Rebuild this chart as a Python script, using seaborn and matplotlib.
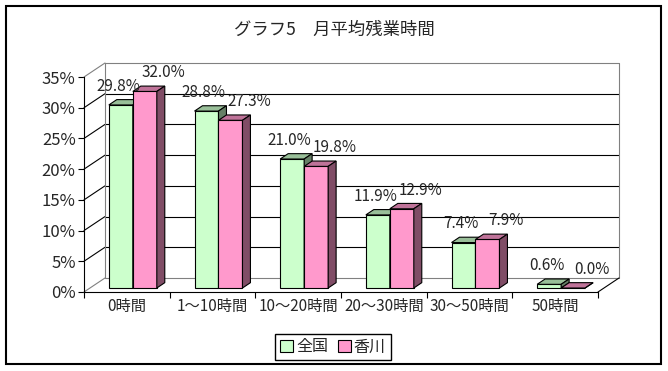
import numpy as np
import pandas as pd
import seaborn as sns
import matplotlib.pyplot as plt
from matplotlib.patches import Polygon, Patch, Rectangle

categories = ["0時間", "1～10時間", "10～20時間", "20～30時間", "30～50時間", "50時間"]
series = ["全国", "香川"]
zenkoku = [29.8, 28.8, 21.0, 11.9, 7.4, 0.6]
kagawa = [32.0, 27.3, 19.8, 12.9, 7.9, 0.0]
yticks = [0, 5, 10, 15, 20, 25, 30, 35]

front = ["#CCFFCC", "#FF99CC"]
top = ["#99BF99", "#BF7399"]
side = ["#668066", "#804D66"]
gray = "#808080"

sns.set_style("white")
plt.rcParams['font.family'] = ['Noto Sans CJK JP', 'DejaVu Sans']

df = pd.DataFrame({
    "区分": categories * 2,
    "系列": [series[0]] * len(categories) + [series[1]] * len(categories),
    "割合": zenkoku + kagawa,
})

fig = plt.figure(figsize=(6.68, 3.71), dpi=100)
ax = fig.add_axes([84 / 668, 79 / 371, 514 / 668, 215 / 371])
sns.barplot(data=df, x="区分", y="割合", hue="系列", order=categories,
            hue_order=series, palette=front, saturation=1, width=0.56,
            edgecolor="black", linewidth=0.8, legend=False, ax=ax)
ax.set_xlim(-0.5, 5.5)
ax.set_ylim(0, 35)
ax.set_xlabel("")
ax.set_ylabel("")

# 3D offsets in data units
wx, wy = 0.245, 2.28   # back wall
fx, fy = 0.07, 0.65    # bar front face
dx, dy = 0.093, 0.87   # bar depth

# walls and gridlines
for v in yticks:
    c = "black" if 0 < v < 35 else gray
    ax.plot([-0.5, -0.5 + wx], [v, v + wy], color=c, lw=0.8, clip_on=False, zorder=1)
    ax.plot([-0.5 + wx, 5.5 + wx], [v + wy, v + wy], color=c, lw=0.8, clip_on=False, zorder=1)
ax.plot([-0.5 + wx, -0.5 + wx], [wy, 35 + wy], color=gray, lw=0.8, clip_on=False, zorder=1)
ax.plot([5.5 + wx, 5.5 + wx], [wy, 35 + wy], color=gray, lw=0.8, clip_on=False, zorder=1)
ax.plot([5.5, 5.5 + wx], [0, wy], color="black", lw=0.8, clip_on=False, zorder=1)

# 3D bars
for j, cont in enumerate(ax.containers):
    for i, bar in enumerate(cont):
        bar.set_x(bar.get_x() + fx)
        bar.set_y(fy)
        x0 = bar.get_x()
        w = bar.get_width()
        h = bar.get_height()
        yt = fy + h
        z = 10 + i * 10 + j * 3
        bar.set_zorder(z)
        bar.set_clip_on(False)
        ax.add_patch(Polygon([(x0, yt), (x0 + w, yt), (x0 + w + dx, yt + dy), (x0 + dx, yt + dy)],
                             closed=True, facecolor=top[j], edgecolor="black", lw=0.8,
                             zorder=z + 1, clip_on=False))
        ax.add_patch(Polygon([(x0 + w, fy), (x0 + w + dx, fy + dy), (x0 + w + dx, yt + dy), (x0 + w, yt)],
                             closed=True, facecolor=side[j], edgecolor="black", lw=0.8,
                             zorder=z + 1, clip_on=False))
        lx = x0 + w / 2 + (0.22 if j == 1 else -0.03)
        ax.text(lx, h + 2.3, f"{h:.1f}%", ha="center", va="bottom", fontsize=11, zorder=100)

ax.set_yticks(yticks)
ax.set_yticklabels([f"{v}%" for v in yticks], fontsize=12)
ax.set_xticks(range(len(categories)))
ax.set_xticklabels(categories, fontsize=11)
ax.set_xticks(np.arange(-0.5, len(categories)), minor=True)
ax.tick_params(axis="y", left=True, length=4, width=0.8, color="black", pad=2)
ax.tick_params(axis="x", which="major", bottom=False, length=0, pad=4)
ax.tick_params(axis="x", which="minor", bottom=True, length=4, width=0.8, color="black")
for s in ["top", "right"]:
    ax.spines[s].set_visible(False)
for s in ["left", "bottom"]:
    ax.spines[s].set_color("black")
    ax.spines[s].set_linewidth(0.8)
ax.patch.set_alpha(0)

fig.text(334 / 668, 1 - 30 / 371, "グラフ5　月平均残業時間", ha="center", va="center", fontsize=12.5)

handles = [Patch(facecolor=front[k], edgecolor="black", lw=0.8) for k in range(2)]
leg = fig.legend(handles, series, loc="center", bbox_to_anchor=(333 / 668, 1 - 347 / 371),
                 ncol=2, frameon=True, fancybox=False, edgecolor="black", framealpha=1,
                 handlelength=0.8, handleheight=0.8, handletextpad=0.2, columnspacing=0.6,
                 borderpad=0.3, fontsize=11.5)
leg.get_frame().set_linewidth(1)

fig.patches.append(Rectangle((6 / 668, 7 / 371), 655 / 668, 358 / 371, transform=fig.transFigure,
                             fill=False, edgecolor="black", lw=1.5))

fig.savefig("out.png", dpi=100)
